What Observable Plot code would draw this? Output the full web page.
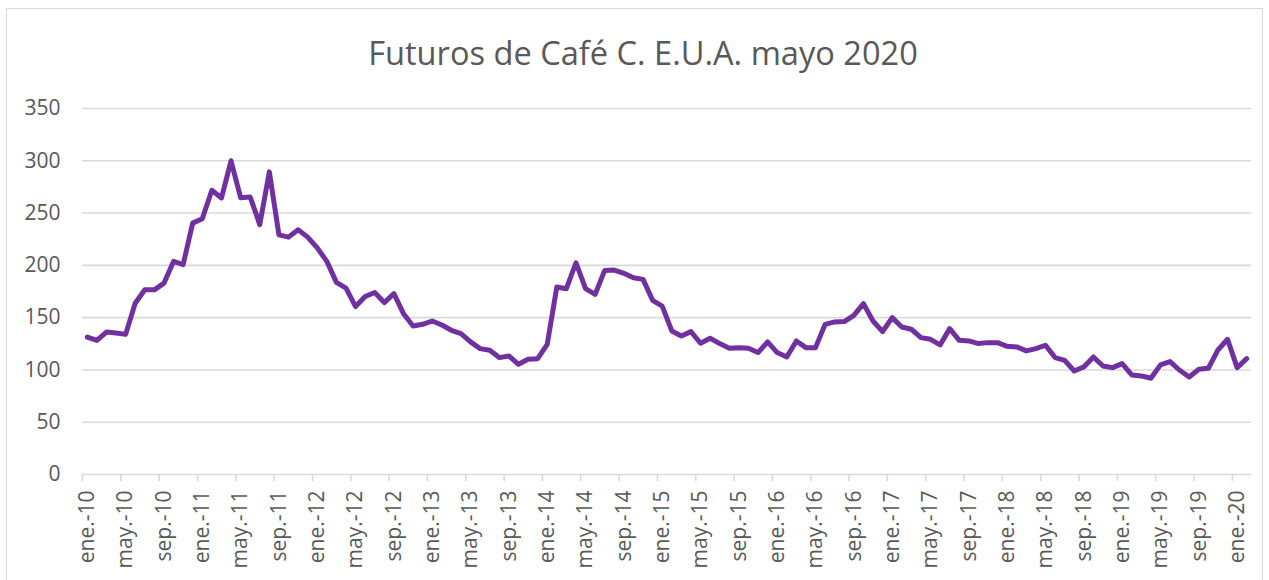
<!DOCTYPE html>
<html>
<head>
<meta charset="utf-8">
<script src="https://cdn.jsdelivr.net/npm/d3@7"></script>
<script src="https://cdn.jsdelivr.net/npm/@observablehq/plot@0.6"></script>
<style>
  html, body { margin: 0; padding: 0; background: #fff; }
  #wrap { position: relative; width: 1269px; height: 580px; overflow: hidden; }
  #border { position: absolute; left: 6px; top: 8px; width: 1255px; height: 600px; border: 1.5px solid #d9d9d9; pointer-events: none; z-index: 2; }
</style>
</head>
<body>
<div id="wrap"><div id="border"></div></div>
<script>
const chartTitle = "Futuros de Café C. E.U.A. mayo 2020";

// x-axis tick labels, one every 4 months starting ene.-10
const tickLabels = [
  "ene.-10","may.-10","sep.-10","ene.-11","may.-11","sep.-11",
  "ene.-12","may.-12","sep.-12","ene.-13","may.-13","sep.-13",
  "ene.-14","may.-14","sep.-14","ene.-15","may.-15","sep.-15",
  "ene.-16","may.-16","sep.-16","ene.-17","may.-17","sep.-17",
  "ene.-18","may.-18","sep.-18","ene.-19","may.-19","sep.-19",
  "ene.-20"
];
const monthsPerTick = 4;

// monthly prices, ene.-10 .. feb.-20
const values2010 = [131.4,128.2,136.2,135.3,134,163.8,176.6,176.6,183,203.8,200.6,240.4];
const values2011 = [244.6,271.8,264.4,300,264.7,265.4,239,289.4,229.2,227,234,227];
const values2012 = [216.7,203.8,183.7,178.2,160.6,170.2,174,164.4,173,153.8,142,143.6];
const values2013 = [146.8,143,137.9,134.7,126.8,120.4,118.8,111.8,113.4,105.4,110.2,110.8];
const values2014 = [124.5,179.3,177.7,202.5,177.7,172.3,195.2,195.5,192.4,188.2,186.6,166.6];
const values2015 = [161.1,137.3,132.5,136.6,125.5,130.3,125.2,120.7,121.3,120.7,116.6,126.8];
const values2016 = [116.6,112.4,127.7,121.3,121.3,143.6,145.9,146.2,152.2,163.4,146.8,136.6];
const values2017 = [150,141.1,138.9,130.9,129.3,123.9,139.5,128.3,127.7,125.2,126.1,126.1];
const values2018 = [122.6,122,118.2,120.4,123.6,111.8,109.2,99,102.9,112.4,103.8,102.2];
const values2019 = [106,95.2,94.3,92,104.8,108,99.7,93.3,100.6,101.6,119.1,129.3];
const values2020 = [102.2,110.8];

const yTicks = [0,50,100,150,200,250,300,350];

const values = [].concat(values2010, values2011, values2012, values2013, values2014,
  values2015, values2016, values2017, values2018, values2019, values2020);
const data = values.map((v, i) => ({ m: i + 0.5, v }));

const boundaryTicks = tickLabels.map((_, k) => k * monthsPerTick);
const labelTicks = tickLabels.map((_, k) => k * monthsPerTick + 0.5);

const chart = Plot.plot({
  width: 1269,
  height: 580,
  marginTop: 108,
  marginBottom: 106,
  marginLeft: 82,
  marginRight: 18,
  style: { fontFamily: "'Open Sans', sans-serif", fontSize: "21px", color: "#595959", background: "transparent" },
  x: { domain: [0, values.length], label: null },
  y: { domain: [0, 350], label: null },
  marks: [
    Plot.gridY(yTicks, { stroke: "#d9d9d9", strokeWidth: 1.6, strokeOpacity: 1 }),
    Plot.axisY({ ticks: yTicks, tickSize: 0, tickPadding: 22, label: null, fill: "#595959" }),
    Plot.axisX({ ticks: boundaryTicks, tickFormat: () => "", tickSize: 7, stroke: "#d9d9d9", strokeWidth: 1.6, label: null }),
    Plot.axisX({ ticks: labelTicks, tickFormat: d => tickLabels[Math.round((d - 0.5) / monthsPerTick)], tickSize: 0, tickPadding: 16, tickRotate: -90, label: null, fill: "#595959" }),
    Plot.line(data, { x: "m", y: "v", stroke: "#7030a0", strokeWidth: 5, strokeLinejoin: "round", strokeLinecap: "round" })
  ]
});

d3.select(chart).append("text")
  .attr("x", 643)
  .attr("y", 65)
  .attr("text-anchor", "middle")
  .attr("fill", "#595959")
  .style("font-family", "'Open Sans', sans-serif")
  .style("font-size", "32.6px")
  .text(chartTitle);

document.getElementById("wrap").appendChild(chart);
</script>
</body>
</html>
